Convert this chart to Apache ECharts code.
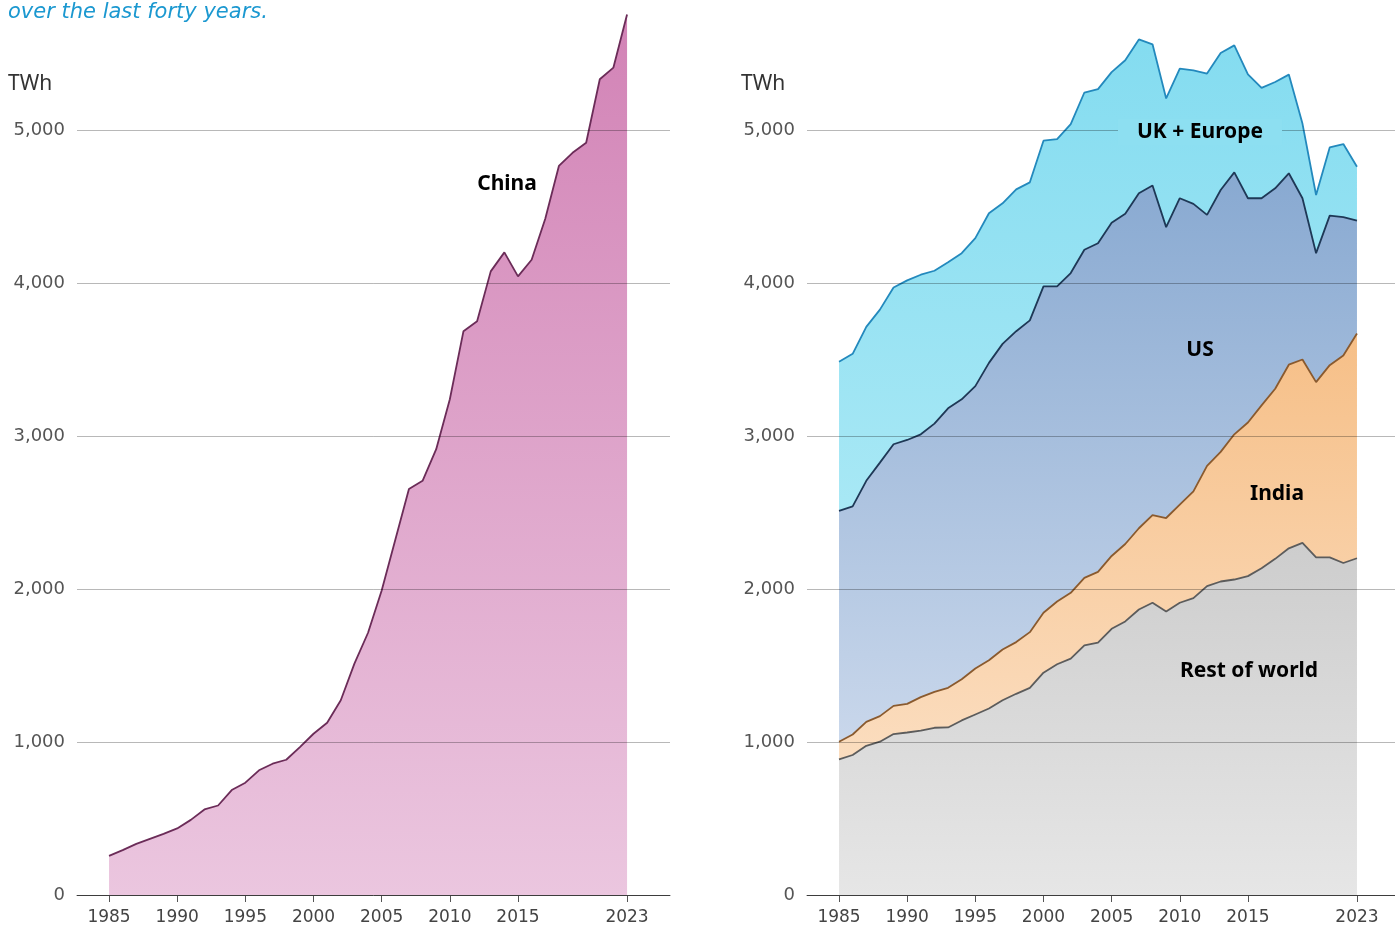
<!DOCTYPE html>
<html>
<head>
<meta charset="utf-8">
<script src="https://cdn.jsdelivr.net/npm/echarts@6/dist/echarts.min.js"></script>
<style>
html, body { margin: 0; padding: 0; background: #fff; }
#chart { width: 1395px; height: 926px; }
</style>
</head>
<body>
<div id="chart"></div>
<script>
var years = [1985, 1986, 1987, 1988, 1989, 1990, 1991, 1992, 1993, 1994,
    1995, 1996, 1997, 1998, 1999, 2000, 2001, 2002, 2003, 2004,
    2005, 2006, 2007, 2008, 2009, 2010, 2011, 2012, 2013, 2014,
    2015, 2016, 2017, 2018, 2019, 2020, 2021, 2022, 2023];

// TWh
var china = [256, 293, 334, 367, 400, 435, 491, 559, 585, 686,
    734, 815, 858, 884, 967, 1054, 1126, 1273, 1512, 1714,
    1990, 2322, 2653, 2707, 2914, 3240, 3685, 3750, 4076, 4200,
    4043, 4152, 4420, 4765, 4851, 4917, 5332, 5408, 5755];
var restOfWorld = [886, 915, 975, 1002, 1052, 1062, 1075, 1093, 1095, 1141,
    1180, 1219, 1273, 1315, 1354, 1453, 1508, 1545, 1632, 1650,
    1740, 1788, 1866, 1910, 1853, 1910, 1940, 2019, 2049, 2062,
    2084, 2136, 2197, 2266, 2301, 2207, 2207, 2170, 2201];
var india = [116, 134, 157, 167, 184, 187, 218, 235, 259, 269,
    300, 315, 332, 338, 364, 392, 410, 430, 441, 462,
    476, 506, 531, 573, 611, 641, 698, 786, 847, 949,
    1004, 1064, 1112, 1200, 1199, 1145, 1256, 1356, 1469];
var us = [1509, 1491, 1575, 1657, 1710, 1725, 1718, 1753, 1827, 1830,
    1846, 1944, 1997, 2032, 2038, 2133, 2060, 2090, 2144, 2148,
    2178, 2158, 2190, 2154, 1901, 2003, 1879, 1640, 1712, 1712,
    1466, 1354, 1310, 1251, 1054, 843, 977, 904, 738];
var ukEurope = [974, 997, 1006, 1000, 1025, 1043, 1043, 999, 954, 955,
    967, 978, 919, 927, 902, 952, 963, 973, 1028, 1007,
    984, 1004, 1005, 923, 841, 847, 873, 924, 895, 830,
    810, 721, 695, 645, 488, 380, 446, 478, 352];

var xTicks = [1985, 1990, 1995, 2000, 2005, 2010, 2015, 2023];

var labelFont = 'Noto Sans';
var tickFont = 'DejaVu Sans';

// value first, year second, so that a stack adds up the values and not the years
function pairs(vals) {
    return years.map(function (y, i) { return [vals[i], y]; });
}

function grad(top, bottom) {
    return new echarts.graphic.LinearGradient(0, 0, 0, 1, [
        { offset: 0, color: top },
        { offset: 1, color: bottom }
    ]);
}

function xAxisFor(idx, min, max) {
    return {
        type: 'value',
        gridIndex: idx,
        min: min,
        max: max,
        splitLine: { show: false },
        axisLine: { show: true, lineStyle: { color: '#555', width: 1 } },
        axisTick: { show: true, length: 7, customValues: xTicks, lineStyle: { color: '#555' } },
        axisLabel: {
            customValues: xTicks,
            margin: 14,
            color: '#444',
            fontFamily: tickFont,
            fontSize: 17,
            formatter: function (v) { return String(v); }
        }
    };
}

function yAxisFor(idx) {
    return {
        type: 'value',
        gridIndex: idx,
        min: 0,
        max: 5000,
        interval: 1000,
        z: 5,
        axisLine: { show: false },
        axisTick: { show: false },
        splitLine: { lineStyle: { color: 'rgba(0,0,0,0.28)', width: 1 } },
        axisLabel: {
            margin: 12,
            color: '#555',
            fontFamily: tickFont,
            fontSize: 18,
            formatter: function (v) { return v.toLocaleString('en-US'); }
        }
    };
}

function areaSeries(name, vals, grid, line, top, bottom, stack) {
    return {
        name: name,
        type: 'line',
        xAxisIndex: grid,
        yAxisIndex: grid,
        stack: stack,
        data: pairs(vals),
        encode: { x: 1, y: 0 },
        symbol: 'none',
        clip: false,
        lineStyle: { color: line, width: 1.8 },
        areaStyle: { color: grad(top, bottom), opacity: 1 }
    };
}

function label(text, x, y, extra) {
    var st = {
        text: text,
        x: x,
        y: y,
        fill: '#000',
        font: 'bold 21px "' + labelFont + '"',
        textAlign: 'center',
        textVerticalAlign: 'middle'
    };
    for (var k in extra) st[k] = extra[k];
    return { type: 'text', z: 100, style: st };
}

var chart = echarts.init(document.getElementById('chart'));
chart.setOption({
    animation: false,
    backgroundColor: '#fff',
    grid: [
        { left: 77, right: 725, top: 130, bottom: 29 },
        { left: 807, right: 0, top: 130, bottom: 29 }
    ],
    xAxis: [xAxisFor(0, 1982.65, 2026.15), xAxisFor(1, 1982.65, 2025.79)],
    yAxis: [yAxisFor(0), yAxisFor(1)],
    series: [
        areaSeries('China', china, 0, '#6b2c58', '#d283b6', '#ebc6df'),
        areaSeries('Rest of world', restOfWorld, 1, '#5c5c5c', '#cdcdcd', '#e6e6e6', 'world'),
        areaSeries('India', india, 1, '#8a5a2e', '#f6bf87', '#fbddbf', 'world'),
        areaSeries('US', us, 1, '#1e3856', '#88a9d1', '#c9d7eb', 'world'),
        areaSeries('UK + Europe', ukEurope, 1, '#2389bd', '#84dcf0', '#a8e8f5', 'world')
    ],
    graphic: [
        {
            type: 'text', z: 100,
            style: {
                text: 'over the last forty years.', x: 8, y: 13,
                fill: '#1b98d0', font: 'italic 21px "DejaVu Sans"',
                textVerticalAlign: 'middle'
            }
        },
        {
            type: 'text', z: 100,
            style: { text: 'TWh', x: 8, y: 84, fill: '#333', font: '21px "' + labelFont + '"', textVerticalAlign: 'middle' }
        },
        {
            type: 'text', z: 100,
            style: { text: 'TWh', x: 741, y: 84, fill: '#333', font: '21px "' + labelFont + '"', textVerticalAlign: 'middle' }
        },
        label('China', 507, 184),
        label('UK + Europe', 1200, 132, { backgroundColor: '#8ddff1', padding: [2, 19, 2, 19] }),
        label('US', 1200, 350),
        label('India', 1277, 494),
        label('Rest of world', 1249, 671)
    ]
});
</script>
</body>
</html>
